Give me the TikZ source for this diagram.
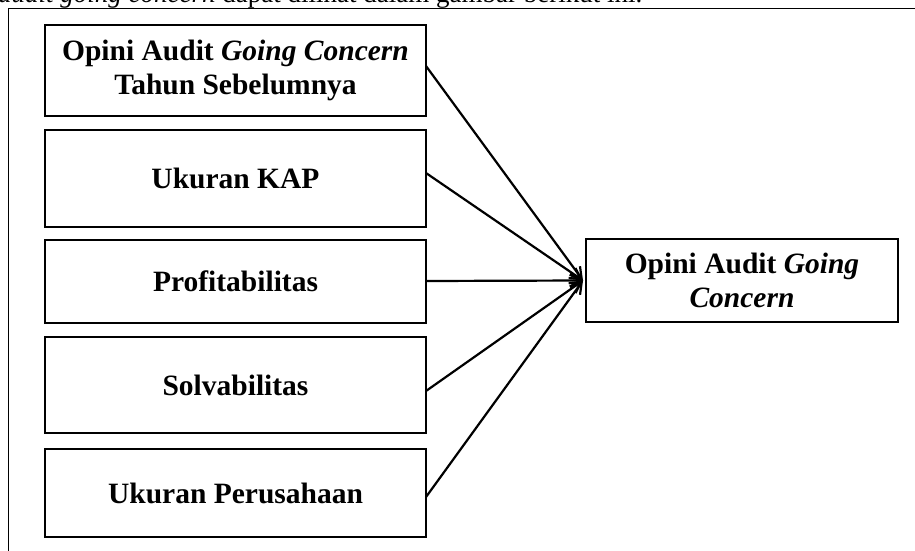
\documentclass[tikz,border=0pt]{standalone}
\usepackage{fontspec}
\setmainfont{Liberation Serif}
\usetikzlibrary{arrows.meta}
\begin{document}
\begin{tikzpicture}[x=1pt,y=-1pt,
  box/.style={draw, line width=2.6pt, inner sep=0pt, outer sep=0pt, align=center,
    font=\bfseries\fontsize{29.5}{34}\selectfont},
  link/.style={line width=2.2pt, -{Straight Barb[length=11pt,width=12pt,line width=2.2pt]}}]
\useasboundingbox (0,0) rectangle (915,551);
\clip (0,0) rectangle (915,551);
\node[anchor=base west, inner sep=0pt, font=\fontsize{27}{34}\selectfont] (top) at (-2,3)
  {\textit{audit going concern} dapat dilihat dalam gambar berikut ini.};
\draw[line width=1pt] (8.5,600) -- (8.5,8.5) -- (960,8.5);
\node[box, minimum width=381pt, minimum height=91pt] (b1) at (235.5,70.5)
  {Opini Audit \textit{Going Concern}\\Tahun Sebelumnya};
\node[box, minimum width=381pt, minimum height=97pt] (b2) at (235.5,178.5) {Ukuran KAP};
\node[box, minimum width=381pt, minimum height=83pt] (b3) at (235.5,281.5) {Profitabilitas};
\node[box, minimum width=381pt, minimum height=96pt] (b4) at (235.5,385) {Solvabilitas};
\node[box, minimum width=381pt, minimum height=88pt] (b5) at (235.5,493) {Ukuran Perusahaan};
\node[box, minimum width=312pt, minimum height=83pt] (rb) at (742,280.5)
  {Opini Audit \textit{Going}\\\textit{Concern}};
\coordinate (tip) at ([xshift=-3pt]rb.west);
\draw[link] ([yshift=4.5pt]b1.east) -- (tip);
\draw[link] ([yshift=5.5pt]b2.east) -- (tip);
\draw[link] ([yshift=0.5pt]b3.east) -- (tip);
\draw[link] ([yshift=-6pt]b4.east) -- (tip);
\draw[link] ([yshift=-4pt]b5.east) -- (tip);
\end{tikzpicture}
\end{document}
